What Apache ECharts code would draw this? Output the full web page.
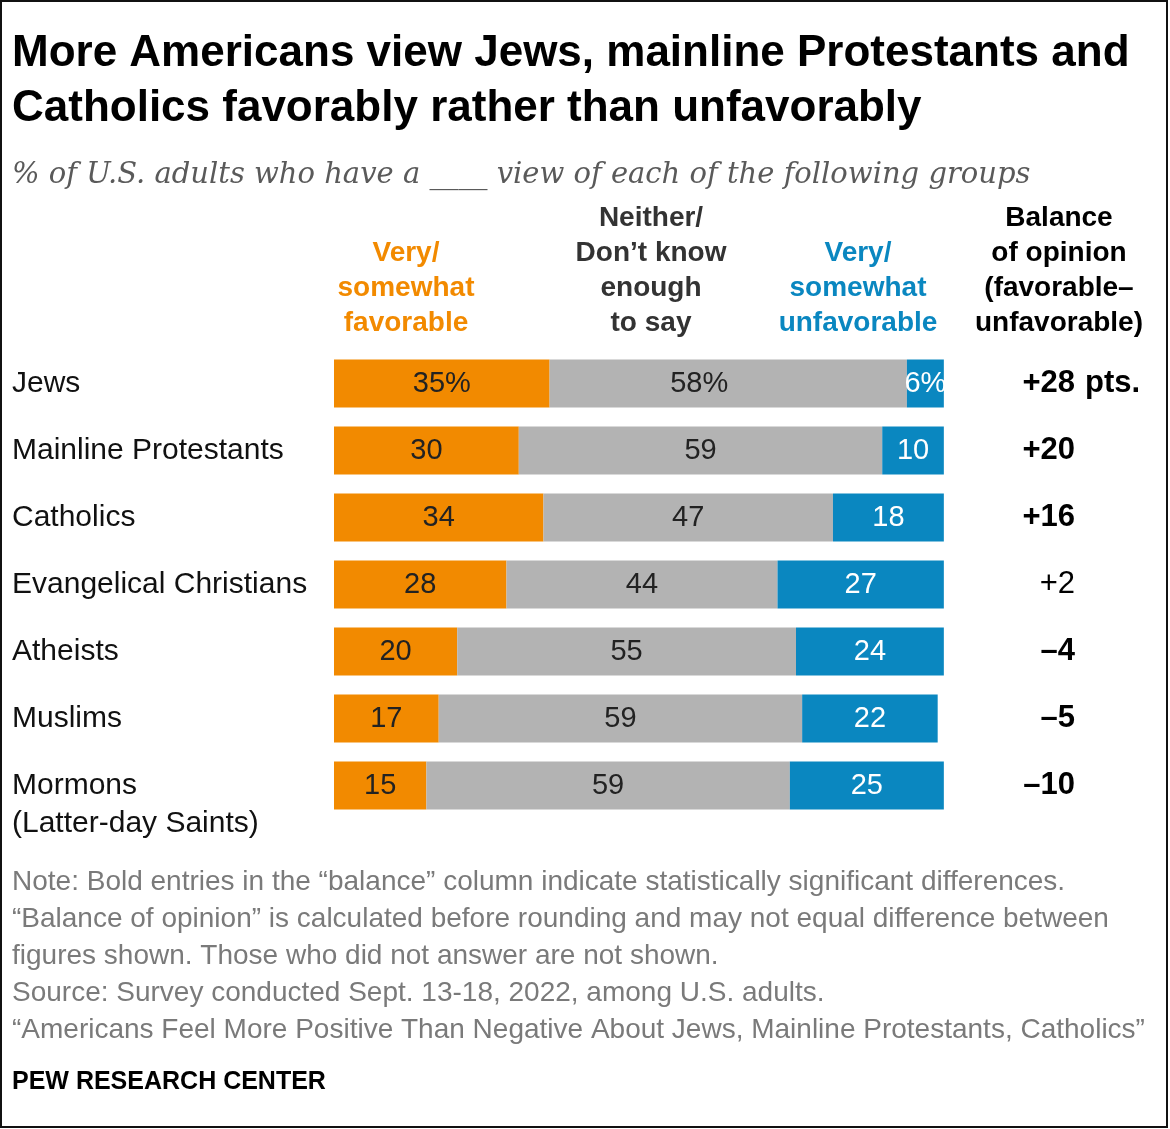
<!DOCTYPE html>
<html>
<head>
<meta charset="utf-8">
<script src="https://cdn.jsdelivr.net/npm/echarts@6/dist/echarts.min.js"></script>
<style>
  html, body { margin: 0; padding: 0; background: #fff; }
  #main { width: 1170px; height: 1129px; }
</style>
</head>
<body>
<div id="main"></div>
<script>
// data
var categories = ['Jews', 'Mainline Protestants', 'Catholics', 'Evangelical Christians', 'Atheists', 'Muslims', 'Mormons\n(Latter-day Saints)'];
var favorable = [35, 30, 34, 28, 20, 17, 15];
var neither = [58, 59, 47, 44, 55, 59, 59];
var unfavorable = [6, 10, 18, 27, 24, 22, 25];
var balance = ['+28', '+20', '+16', '+2', '\u20134', '\u20135', '\u201310'];
var balanceBold = [true, true, true, false, true, true, true];
var balanceSuffix = ['pts.', '', '', '', '', '', ''];

var ORANGE = '#F28A00';
var GRAY = '#B3B3B3';
var BLUE = '#0A87C0';
var SANS = "'Liberation Sans', Arial, sans-serif";

var myChart = echarts.init(document.getElementById('main'));

function segLabel(color) {
    return {
        show: true,
        position: 'inside',
        fontFamily: SANS,
        fontSize: 29,
        color: color,
        formatter: function (p) {
            return p.dataIndex === 0 ? p.value + '%' : p.value;
        }
    };
}

// the first grey label sits a bit left of centre in the original
var neitherData = neither.map(function (v, i) {
    return i === 0 ? { value: v, label: { offset: [-29, 0] } } : v;
});

var option = {
    backgroundColor: '#fff',
    animation: false,
    title: {
        left: 12,
        top: 26,
        padding: 0,
        itemGap: 19,
        text: 'More Americans view Jews, mainline Protestants and\nCatholics favorably rather than unfavorably',
        textStyle: {
            fontFamily: SANS,
            fontWeight: 'bold',
            fontSize: 44,
            lineHeight: 55,
            color: '#000'
        },
        subtext: '% of U.S. adults who have a ____ view of each of the following groups',
        subtextStyle: {
            fontFamily: "'DejaVu Serif', Georgia, serif",
            fontStyle: 'italic',
            fontSize: 29,
            lineHeight: 40,
            color: '#5a5a5a'
        }
    },
    grid: {
        left: 334,
        top: 350,
        width: 616,
        height: 469
    },
    xAxis: {
        type: 'value',
        min: 0,
        max: 100,
        show: false
    },
    yAxis: [
        {
            type: 'category',
            data: categories,
            inverse: true,
            axisLine: { show: false },
            axisTick: { show: false },
            axisLabel: {
                interval: 0,
                hideOverlap: false,
                align: 'left',
                margin: 322,
                fontFamily: SANS,
                fontSize: 30,
                lineHeight: 38,
                padding: [8, 0, 0, 0],
                color: '#111',
                formatter: function (v) {
                    // keep the first line level with the bar
                    return v.indexOf('\n') >= 0 ? '\n' + v : v;
                }
            }
        },
        {
            type: 'category',
            data: balance,
            inverse: true,
            position: 'right',
            axisLine: { show: false },
            axisTick: { show: false },
            axisLabel: {
                interval: 0,
                align: 'right',
                margin: 125,
                formatter: function (v, i) {
                    return balanceBold[i] ? '{b|' + v + '}' : '{r|' + v + '}';
                },
                rich: {
                    b: { fontFamily: SANS, fontSize: 31, fontWeight: 'bold', color: '#000' },
                    r: { fontFamily: SANS, fontSize: 31, color: '#000' }
                }
            }
        },
        {
            type: 'category',
            data: balanceSuffix,
            inverse: true,
            position: 'right',
            axisLine: { show: false },
            axisTick: { show: false },
            axisLabel: {
                interval: 0,
                align: 'left',
                margin: 135,
                fontFamily: SANS,
                fontSize: 31,
                fontWeight: 'bold',
                color: '#000'
            }
        }
    ],
    series: [
        {
            name: 'Very/somewhat favorable',
            type: 'bar',
            stack: 'total',
            barWidth: 48,
            data: favorable,
            itemStyle: { color: ORANGE },
            label: segLabel('#222')
        },
        {
            name: 'Neither/Don\u2019t know enough to say',
            type: 'bar',
            stack: 'total',
            barWidth: 48,
            data: neitherData,
            itemStyle: { color: GRAY },
            label: segLabel('#222')
        },
        {
            name: 'Very/somewhat unfavorable',
            type: 'bar',
            stack: 'total',
            barWidth: 48,
            data: unfavorable,
            itemStyle: { color: BLUE },
            label: segLabel('#fff')
        }
    ],
    graphic: [
        {
            type: 'rect',
            shape: { x: 1, y: 1, width: 1166, height: 1126 },
            style: { fill: 'none', stroke: '#111', lineWidth: 2 },
            silent: true
        },
        {
            type: 'text', x: 406, y: 341,
            style: {
                text: 'Very/\nsomewhat\nfavorable', align: 'center', verticalAlign: 'bottom',
                fontFamily: SANS, fontWeight: 'bold', fontSize: 28, lineHeight: 35, fill: ORANGE
            }
        },
        {
            type: 'text', x: 651, y: 341,
            style: {
                text: 'Neither/\nDon\u2019t know\nenough\nto say', align: 'center', verticalAlign: 'bottom',
                fontFamily: SANS, fontWeight: 'bold', fontSize: 28, lineHeight: 35, fill: '#333'
            }
        },
        {
            type: 'text', x: 858, y: 341,
            style: {
                text: 'Very/\nsomewhat\nunfavorable', align: 'center', verticalAlign: 'bottom',
                fontFamily: SANS, fontWeight: 'bold', fontSize: 28, lineHeight: 35, fill: BLUE
            }
        },
        {
            type: 'text', x: 1059, y: 341,
            style: {
                text: 'Balance\nof opinion\n(favorable\u2013\nunfavorable)', align: 'center', verticalAlign: 'bottom',
                fontFamily: SANS, fontWeight: 'bold', fontSize: 28, lineHeight: 35, fill: '#000'
            }
        },
        {
            type: 'text', x: 12, y: 864,
            style: {
                text: 'Note: Bold entries in the \u201cbalance\u201d column indicate statistically significant differences.\n' +
                    '\u201cBalance of opinion\u201d is calculated before rounding and may not equal difference between\n' +
                    'figures shown. Those who did not answer are not shown.\n' +
                    'Source: Survey conducted Sept. 13-18, 2022, among U.S. adults.\n' +
                    '\u201cAmericans Feel More Positive Than Negative About Jews, Mainline Protestants, Catholics\u201d',
                fontFamily: SANS, fontSize: 28, lineHeight: 37, fill: '#7a7a7a'
            }
        },
        {
            type: 'text', x: 12, y: 1082,
            style: {
                text: 'PEW RESEARCH CENTER', verticalAlign: 'middle',
                fontFamily: SANS, fontWeight: 'bold', fontSize: 25, fill: '#000'
            }
        }
    ]
};

myChart.setOption(option);
</script>
</body>
</html>
